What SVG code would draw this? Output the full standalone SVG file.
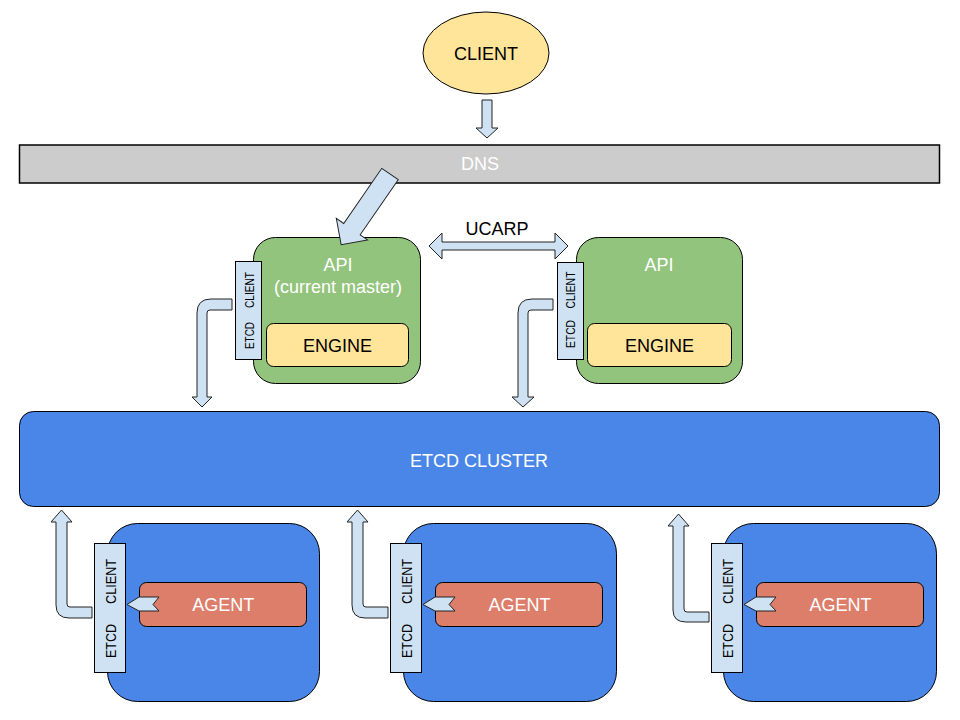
<svg xmlns="http://www.w3.org/2000/svg" width="960" height="720" viewBox="0 0 960 720">
<style>
text{font-family:"Liberation Sans",Arial,sans-serif;font-size:18px;text-anchor:middle}
.w{fill:#ffffff}
.k{fill:#000000}
.conn{fill:#cfe2f3;stroke:#222;stroke-width:1}
.tab{fill:#cfe2f3;stroke:#000;stroke-width:1}
.tt{font-size:12px;fill:#000}
.ta{font-size:14px;fill:#000}
.api{fill:#93c47d;stroke:#000;stroke-width:1}
.eng{fill:#ffe599;stroke:#000;stroke-width:1}
.blue{fill:#4a86e8;stroke:#000;stroke-width:1}
.agent{fill:#dd7e6b;stroke:#000;stroke-width:1}
</style>
<rect width="960" height="720" fill="#fff"/>

<g id="client">
<ellipse cx="486" cy="53" rx="63" ry="41" fill="#ffe599" stroke="#000" stroke-width="1"/>
<text x="486" y="60" class="k">CLIENT</text>
</g>

<g id="dns">
<rect x="19.5" y="145" width="920" height="38" fill="#cccccc" stroke="#000" stroke-width="1.5"/>
<text x="480" y="170" class="w">DNS</text>
</g>

<g id="etcd-cluster">
<rect x="19.5" y="411.5" width="920" height="95" rx="14" class="blue"/>
<text x="479" y="466.5" class="w">ETCD CLUSTER</text>
</g>

<g id="api1">
<rect x="253.5" y="237.5" width="167" height="146" rx="22" class="api"/>
<text x="338" y="271" class="w">API</text>
<text x="338" y="292.5" class="w">(current master)</text>
<rect x="266.5" y="323.5" width="142" height="43" rx="7" class="eng"/>
<text x="337.5" y="352" class="k">ENGINE</text>
<rect x="235.5" y="261.5" width="26" height="98" class="tab"/>
<text transform="translate(254,290) rotate(-90)" class="tt" textLength="36" lengthAdjust="spacingAndGlyphs">CLIENT</text>
<text transform="translate(254,335.5) rotate(-90)" class="tt" textLength="27" lengthAdjust="spacingAndGlyphs">ETCD</text>
</g>

<g id="api2">
<rect x="576.5" y="237.5" width="166" height="146" rx="22" class="api"/>
<text x="659" y="271" class="w">API</text>
<rect x="587.5" y="323.5" width="144" height="43" rx="7" class="eng"/>
<text x="659.5" y="352" class="k">ENGINE</text>
<rect x="557.5" y="262.5" width="26" height="97" class="tab"/>
<text transform="translate(575,290) rotate(-90)" class="tt" textLength="37" lengthAdjust="spacingAndGlyphs">CLIENT</text>
<text transform="translate(575,334) rotate(-90)" class="tt" textLength="28" lengthAdjust="spacingAndGlyphs">ETCD</text>
</g>

<g id="agent1">
<rect x="107.5" y="523.5" width="212" height="178" rx="30" class="blue"/>
<rect x="139.5" y="582.5" width="167" height="44" rx="7" class="agent"/>
<text x="223.3" y="611" class="w">AGENT</text>
<rect x="94.5" y="543.5" width="31" height="129" class="tab"/>
<text transform="translate(116,581.5) rotate(-90)" class="ta" textLength="45" lengthAdjust="spacingAndGlyphs">CLIENT</text>
<text transform="translate(116,641) rotate(-90)" class="ta" textLength="34" lengthAdjust="spacingAndGlyphs">ETCD</text>
</g>

<g id="agent2">
<rect x="403.5" y="523.5" width="213" height="178" rx="30" class="blue"/>
<rect x="435.5" y="582.5" width="167" height="44" rx="7" class="agent"/>
<text x="519.5" y="611" class="w">AGENT</text>
<rect x="390.5" y="543.5" width="31" height="129" class="tab"/>
<text transform="translate(412,581.5) rotate(-90)" class="ta" textLength="45" lengthAdjust="spacingAndGlyphs">CLIENT</text>
<text transform="translate(412,641) rotate(-90)" class="ta" textLength="34" lengthAdjust="spacingAndGlyphs">ETCD</text>
</g>

<g id="agent3">
<rect x="723.5" y="523.5" width="213" height="178" rx="30" class="blue"/>
<rect x="756.5" y="582.5" width="167" height="44" rx="7" class="agent"/>
<text x="840.5" y="611" class="w">AGENT</text>
<rect x="711.5" y="543.5" width="31" height="129" class="tab"/>
<text transform="translate(733,581.5) rotate(-90)" class="ta" textLength="45" lengthAdjust="spacingAndGlyphs">CLIENT</text>
<text transform="translate(733,641) rotate(-90)" class="ta" textLength="34" lengthAdjust="spacingAndGlyphs">ETCD</text>
</g>

<g id="connectors">
<polygon class="conn" points="482,100 492,100 492,128 498,128 487,138 476,128 482,128"/>
<polygon class="conn" transform="translate(390,174) rotate(124.6)" points="0,-10 67,-10 67,-19 86,0 67,19 67,10 0,10"/>
<polygon class="conn" points="429,246 442,233 442,242 555,242 555,233 568,246 555,259 555,250 442,250 442,259"/>
<text x="497" y="235" class="k">UCARP</text>
<path class="conn" d="M232,299 L211,299 Q197,299 197,313 L197,397 L192,397 L202,407 L212,397 L207,397 L207,313 Q207,310 210,310 L232,310 Z"/>
<path class="conn" d="M553,299 L532,299 Q518,299 518,313 L518,397 L512,397 L523,407 L534,397 L528,397 L528,313 Q528,310 531,310 L553,310 Z"/>
<path class="conn" d="M92,607 L70,607 Q67,607 67,604 L67,522 L72,522 L61.5,510 L51,522 L56,522 L56,605 Q56,618 69,618 L92,618 Z"/>
<path class="conn" d="M388,607 L366,607 Q363,607 363,604 L363,522 L368,522 L357.5,510 L347,522 L352,522 L352,605 Q352,618 365,618 L388,618 Z"/>
<path class="conn" d="M709,612 L687,612 Q684,612 684,609 L684,526 L689,526 L678.5,514 L668,526 L673,526 L673,610 Q673,622 686,622 L709,622 Z"/>
<polygon class="conn" points="127,604.5 139,597 159,597 153,604.5 159,611 139,611"/>
<polygon class="conn" points="423,604.5 435,597 455,597 449,604.5 455,611 435,611"/>
<polygon class="conn" points="744,604.5 756,597 776,597 770,604.5 776,611 756,611"/>
</g>
</svg>
